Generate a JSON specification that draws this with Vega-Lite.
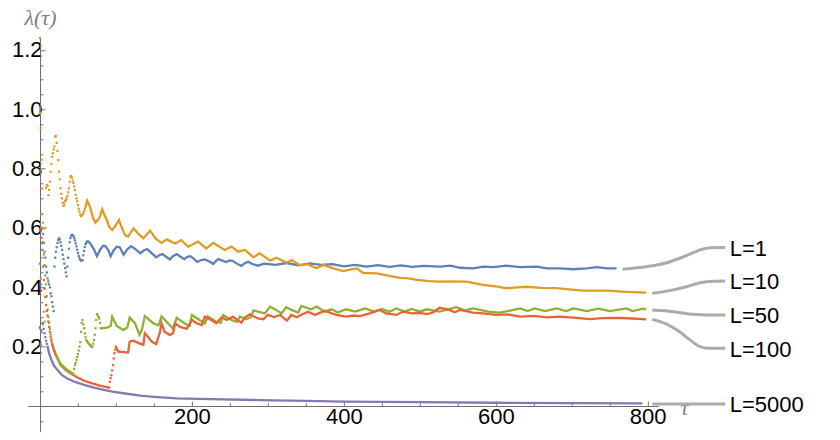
{
"$schema": "https://vega.github.io/schema/vega-lite/v6.json",
"width": 630.5, "height": 393.4,
"autosize": {"type": "none"},
"padding": {"left": 27.85, "top": 38.3, "right": 181.65, "bottom": 8.3},
"background": "white",
"config": {"view": {"stroke": null}, "font": "Liberation Sans"},
"datasets": {
"pts": [
{"s":1,"t":0,"v":0.48},{"s":1,"t":1,"v":0.41},{"s":1,"t":2,"v":0.55},{"s":1,"t":3,"v":0.6},{"s":1,"t":4,"v":0.58},{"s":1,"t":5,"v":0.55},{"s":1,"t":6,"v":0.52},{"s":1,"t":7,"v":0.5},{"s":1,"t":8,"v":0.47},{"s":1,"t":9,"v":0.45},{"s":1,"t":10,"v":0.43},{"s":1,"t":11,"v":0.42},{"s":1,"t":12,"v":0.41},{"s":1,"t":13,"v":0.4},{"s":1,"t":14,"v":0.38},{"s":1,"t":15,"v":0.37},{"s":1,"t":16,"v":0.35},{"s":1,"t":17,"v":0.335},{"s":1,"t":18,"v":0.32},{"s":1,"t":19,"v":0.47},{"s":1,"t":20,"v":0.5},{"s":1,"t":21,"v":0.52},{"s":1,"t":22,"v":0.535},{"s":1,"t":23,"v":0.55},{"s":1,"t":24,"v":0.56},{"s":1,"t":25,"v":0.565},{"s":1,"t":26,"v":0.562},{"s":1,"t":27,"v":0.552},{"s":1,"t":28,"v":0.54},{"s":1,"t":29,"v":0.526},{"s":1,"t":30,"v":0.51},{"s":1,"t":31,"v":0.495},{"s":1,"t":32,"v":0.48},{"s":1,"t":33,"v":0.465},{"s":1,"t":34,"v":0.45},{"s":1,"t":35,"v":0.437},{"s":1,"t":36,"v":0.47},{"s":1,"t":37,"v":0.5},{"s":1,"t":38,"v":0.53},{"s":1,"t":39,"v":0.552},{"s":1,"t":40,"v":0.566},{"s":1,"t":41,"v":0.574},{"s":1,"t":42,"v":0.577},{"s":1,"t":43,"v":0.576},{"s":1,"t":44,"v":0.572},{"s":1,"t":45,"v":0.566},{"s":1,"t":46,"v":0.558},{"s":1,"t":47,"v":0.548},{"s":1,"t":48,"v":0.538},{"s":1,"t":49,"v":0.527},{"s":1,"t":50,"v":0.516},{"s":1,"t":51,"v":0.506},{"s":1,"t":52,"v":0.498},{"s":1,"t":53,"v":0.493},{"s":1,"t":54,"v":0.49},{"s":1,"t":55,"v":0.49},{"s":1,"t":56,"v":0.492},{"s":1,"t":57,"v":0.508},{"s":1,"t":58,"v":0.523},{"s":1,"t":59,"v":0.536},{"s":1,"t":60,"v":0.546},
{"s":10,"t":0,"v":0.987},{"s":10,"t":1,"v":0.936},{"s":10,"t":2,"v":0.83},{"s":10,"t":3,"v":0.733},{"s":10,"t":4,"v":0.618},{"s":10,"t":5,"v":0.318},{"s":10,"t":6,"v":0.284},{"s":10,"t":7,"v":0.6},{"s":10,"t":8,"v":0.735},{"s":10,"t":9,"v":0.745},{"s":10,"t":10,"v":0.742},{"s":10,"t":11,"v":0.711},{"s":10,"t":12,"v":0.728},{"s":10,"t":13,"v":0.756},{"s":10,"t":14,"v":0.79},{"s":10,"t":15,"v":0.815},{"s":10,"t":16,"v":0.84},{"s":10,"t":17,"v":0.852},{"s":10,"t":18,"v":0.865},{"s":10,"t":19,"v":0.875},{"s":10,"t":20,"v":0.908},{"s":10,"t":21,"v":0.91},{"s":10,"t":22,"v":0.887},{"s":10,"t":23,"v":0.86},{"s":10,"t":24,"v":0.829},{"s":10,"t":25,"v":0.79},{"s":10,"t":26,"v":0.764},{"s":10,"t":27,"v":0.734},{"s":10,"t":28,"v":0.715},{"s":10,"t":29,"v":0.7},{"s":10,"t":30,"v":0.685},{"s":10,"t":31,"v":0.674},{"s":10,"t":32,"v":0.68},{"s":10,"t":33,"v":0.69},{"s":10,"t":34,"v":0.694},{"s":10,"t":35,"v":0.7},{"s":10,"t":36,"v":0.708},{"s":10,"t":37,"v":0.72},{"s":10,"t":38,"v":0.734},{"s":10,"t":39,"v":0.755},{"s":10,"t":40,"v":0.773},{"s":10,"t":41,"v":0.775},{"s":10,"t":42,"v":0.77},{"s":10,"t":43,"v":0.76},{"s":10,"t":44,"v":0.752},{"s":10,"t":45,"v":0.74},{"s":10,"t":46,"v":0.728},{"s":10,"t":47,"v":0.712},{"s":10,"t":48,"v":0.7},{"s":10,"t":49,"v":0.69},{"s":10,"t":50,"v":0.677},{"s":10,"t":51,"v":0.665},{"s":10,"t":52,"v":0.655},{"s":10,"t":53,"v":0.645},{"s":10,"t":54,"v":0.64},{"s":10,"t":55,"v":0.642},{"s":10,"t":56,"v":0.646},{"s":10,"t":57,"v":0.649},{"s":10,"t":58,"v":0.656},{"s":10,"t":59,"v":0.664},{"s":10,"t":60,"v":0.672},
{"s":50,"t":0,"v":1.24},{"s":50,"t":1,"v":0.43},{"s":50,"t":2,"v":0.646},{"s":50,"t":3,"v":0.6},{"s":50,"t":4,"v":0.552},{"s":50,"t":5,"v":0.511},{"s":50,"t":6,"v":0.475},{"s":50,"t":7,"v":0.44},{"s":50,"t":8,"v":0.41},{"s":50,"t":9,"v":0.37},{"s":50,"t":10,"v":0.325},{"s":50,"t":11,"v":0.3},{"s":50,"t":12,"v":0.28},{"s":50,"t":13,"v":0.26},{"s":50,"t":14,"v":0.242},{"s":50,"t":15,"v":0.226},{"s":50,"t":16,"v":0.212},{"s":50,"t":17,"v":0.202},{"s":50,"t":18,"v":0.194},{"s":50,"t":19,"v":0.187},{"s":50,"t":20,"v":0.18},{"s":50,"t":21,"v":0.173},{"s":50,"t":22,"v":0.167},{"s":50,"t":23,"v":0.162},{"s":50,"t":24,"v":0.157},{"s":50,"t":25,"v":0.152},{"s":50,"t":26,"v":0.147},{"s":50,"t":27,"v":0.142},{"s":50,"t":28,"v":0.139},{"s":50,"t":29,"v":0.137},{"s":50,"t":30,"v":0.135},{"s":50,"t":31,"v":0.132},{"s":50,"t":32,"v":0.13},{"s":50,"t":33,"v":0.127},{"s":50,"t":34,"v":0.125},{"s":50,"t":35,"v":0.123},{"s":50,"t":36,"v":0.121},{"s":50,"t":37,"v":0.119},{"s":50,"t":38,"v":0.117},{"s":50,"t":39,"v":0.116},{"s":50,"t":40,"v":0.114},{"s":50,"t":41,"v":0.112},{"s":50,"t":42,"v":0.111},{"s":50,"t":43,"v":0.109},{"s":50,"t":44,"v":0.108},{"s":50,"t":45,"v":0.125},{"s":50,"t":46,"v":0.138},{"s":50,"t":47,"v":0.145},{"s":50,"t":48,"v":0.155},{"s":50,"t":49,"v":0.165},{"s":50,"t":50,"v":0.175},{"s":50,"t":51,"v":0.187},{"s":50,"t":52,"v":0.2},{"s":50,"t":53,"v":0.215},{"s":50,"t":54,"v":0.25},{"s":50,"t":55,"v":0.28},{"s":50,"t":56,"v":0.29},{"s":50,"t":57,"v":0.275},{"s":50,"t":58,"v":0.262},{"s":50,"t":59,"v":0.245},{"s":50,"t":60,"v":0.232},{"s":50,"t":61,"v":0.222},{"s":50,"t":62,"v":0.218},{"s":50,"t":63,"v":0.214},{"s":50,"t":64,"v":0.211},{"s":50,"t":65,"v":0.208},{"s":50,"t":66,"v":0.205},{"s":50,"t":67,"v":0.202},{"s":50,"t":68,"v":0.2},{"s":50,"t":69,"v":0.2},{"s":50,"t":70,"v":0.21},{"s":50,"t":71,"v":0.222},{"s":50,"t":72,"v":0.24},{"s":50,"t":73,"v":0.262},{"s":50,"t":74,"v":0.29},{"s":50,"t":75,"v":0.31},{"s":50,"t":76,"v":0.305},{"s":50,"t":77,"v":0.3},{"s":50,"t":78,"v":0.295},{"s":50,"t":79,"v":0.28},{"s":50,"t":80,"v":0.262},
{"s":100,"t":0,"v":0.266},{"s":100,"t":1,"v":0.6},{"s":100,"t":2,"v":0.567},{"s":100,"t":3,"v":0.526},{"s":100,"t":4,"v":0.47},{"s":100,"t":5,"v":0.425},{"s":100,"t":6,"v":0.395},{"s":100,"t":7,"v":0.368},{"s":100,"t":8,"v":0.34},{"s":100,"t":9,"v":0.32},{"s":100,"t":10,"v":0.305},{"s":100,"t":11,"v":0.285},{"s":100,"t":12,"v":0.267},{"s":100,"t":13,"v":0.25},{"s":100,"t":14,"v":0.234},{"s":100,"t":15,"v":0.22},{"s":100,"t":16,"v":0.206},{"s":100,"t":17,"v":0.198},{"s":100,"t":18,"v":0.19},{"s":100,"t":19,"v":0.183},{"s":100,"t":20,"v":0.176},
{"s":100,"t":91,"v":0.062},{"s":100,"t":92,"v":0.082},{"s":100,"t":93,"v":0.094},{"s":100,"t":94,"v":0.104},{"s":100,"t":95,"v":0.12},{"s":100,"t":96,"v":0.138},{"s":100,"t":97,"v":0.16},{"s":100,"t":98,"v":0.178},{"s":100,"t":99,"v":0.19},{"s":100,"t":100,"v":0.2},{"s":100,"t":101,"v":0.194},{"s":100,"t":102,"v":0.188},{"s":100,"t":103,"v":0.184},{"s":100,"t":104,"v":0.183},
{"s":5000,"t":0,"v":0.262},{"s":5000,"t":1,"v":0.205},{"s":5000,"t":2,"v":0.255},{"s":5000,"t":3,"v":0.28},{"s":5000,"t":4,"v":0.276},{"s":5000,"t":5,"v":0.26},{"s":5000,"t":6,"v":0.245},{"s":5000,"t":7,"v":0.232},{"s":5000,"t":8,"v":0.22},{"s":5000,"t":9,"v":0.21},{"s":5000,"t":10,"v":0.2}
],
"lns": [
{"s":1,"t":60,"v":0.546},{"s":1,"t":62,"v":0.555},{"s":1,"t":64,"v":0.554},{"s":1,"t":67,"v":0.545},{"s":1,"t":71,"v":0.528},{"s":1,"t":75,"v":0.505},{"s":1,"t":79,"v":0.526},{"s":1,"t":83,"v":0.54},{"s":1,"t":86,"v":0.539},{"s":1,"t":90,"v":0.525},{"s":1,"t":93,"v":0.505},{"s":1,"t":97,"v":0.525},{"s":1,"t":101,"v":0.537},{"s":1,"t":105,"v":0.535},{"s":1,"t":110,"v":0.51},{"s":1,"t":115,"v":0.528},{"s":1,"t":120,"v":0.539},{"s":1,"t":126,"v":0.528},{"s":1,"t":132,"v":0.515},{"s":1,"t":137,"v":0.525},{"s":1,"t":141,"v":0.529},{"s":1,"t":147,"v":0.515},{"s":1,"t":153,"v":0.501},{"s":1,"t":157,"v":0.508},{"s":1,"t":161,"v":0.512},{"s":1,"t":166,"v":0.503},{"s":1,"t":171,"v":0.494},{"s":1,"t":175,"v":0.505},{"s":1,"t":180,"v":0.512},{"s":1,"t":185,"v":0.503},{"s":1,"t":190,"v":0.495},{"s":1,"t":194,"v":0.503},{"s":1,"t":198,"v":0.505},{"s":1,"t":203,"v":0.495},{"s":1,"t":207,"v":0.486},{"s":1,"t":212,"v":0.492},{"s":1,"t":217,"v":0.494},{"s":1,"t":223,"v":0.487},{"s":1,"t":228,"v":0.479},{"s":1,"t":232,"v":0.49},{"s":1,"t":235,"v":0.495},{"s":1,"t":240,"v":0.49},{"s":1,"t":245,"v":0.485},{"s":1,"t":249,"v":0.49},{"s":1,"t":253,"v":0.49},{"s":1,"t":259,"v":0.48},{"s":1,"t":265,"v":0.472},{"s":1,"t":270,"v":0.482},{"s":1,"t":274,"v":0.486},{"s":1,"t":280,"v":0.478},{"s":1,"t":287,"v":0.473},{"s":1,"t":295,"v":0.48},{"s":1,"t":310,"v":0.476},{"s":1,"t":325,"v":0.482},{"s":1,"t":340,"v":0.474},{"s":1,"t":355,"v":0.481},{"s":1,"t":370,"v":0.476},{"s":1,"t":385,"v":0.478},{"s":1,"t":400,"v":0.471},{"s":1,"t":415,"v":0.476},{"s":1,"t":430,"v":0.47},{"s":1,"t":445,"v":0.475},{"s":1,"t":460,"v":0.469},{"s":1,"t":475,"v":0.474},{"s":1,"t":490,"v":0.469},{"s":1,"t":505,"v":0.472},{"s":1,"t":527,"v":0.47},{"s":1,"t":540,"v":0.473},{"s":1,"t":553,"v":0.466},{"s":1,"t":570,"v":0.464},{"s":1,"t":584,"v":0.47},{"s":1,"t":597,"v":0.468},{"s":1,"t":614,"v":0.473},{"s":1,"t":632,"v":0.468},{"s":1,"t":654,"v":0.47},{"s":1,"t":667,"v":0.464},{"s":1,"t":684,"v":0.464},{"s":1,"t":702,"v":0.461},{"s":1,"t":720,"v":0.464},{"s":1,"t":733,"v":0.468},{"s":1,"t":746,"v":0.464},{"s":1,"t":759,"v":0.464},
{"s":10,"t":60,"v":0.672},{"s":10,"t":62,"v":0.692},{"s":10,"t":65,"v":0.677},{"s":10,"t":67,"v":0.66},{"s":10,"t":70,"v":0.633},{"s":10,"t":73,"v":0.618},{"s":10,"t":78,"v":0.633},{"s":10,"t":82,"v":0.663},{"s":10,"t":84,"v":0.649},{"s":10,"t":88,"v":0.627},{"s":10,"t":91,"v":0.604},{"s":10,"t":95,"v":0.593},{"s":10,"t":100,"v":0.61},{"s":10,"t":104,"v":0.627},{"s":10,"t":108,"v":0.599},{"s":10,"t":112,"v":0.576},{"s":10,"t":116,"v":0.571},{"s":10,"t":123,"v":0.599},{"s":10,"t":129,"v":0.582},{"s":10,"t":136,"v":0.565},{"s":10,"t":145,"v":0.591},{"s":10,"t":152,"v":0.565},{"s":10,"t":160,"v":0.55},{"s":10,"t":167,"v":0.562},{"s":10,"t":172,"v":0.555},{"s":10,"t":178,"v":0.548},{"s":10,"t":186,"v":0.559},{"s":10,"t":195,"v":0.537},{"s":10,"t":208,"v":0.554},{"s":10,"t":219,"v":0.531},{"s":10,"t":228,"v":0.55},{"s":10,"t":243,"v":0.526},{"s":10,"t":252,"v":0.537},{"s":10,"t":261,"v":0.52},{"s":10,"t":270,"v":0.526},{"s":10,"t":281,"v":0.501},{"s":10,"t":289,"v":0.515},{"s":10,"t":303,"v":0.49},{"s":10,"t":311,"v":0.5},{"s":10,"t":325,"v":0.483},{"s":10,"t":331,"v":0.492},{"s":10,"t":342,"v":0.475},{"s":10,"t":352,"v":0.478},{"s":10,"t":364,"v":0.464},{"s":10,"t":373,"v":0.475},{"s":10,"t":385,"v":0.465},{"s":10,"t":399,"v":0.455},{"s":10,"t":408,"v":0.46},{"s":10,"t":417,"v":0.464},{"s":10,"t":425,"v":0.449},{"s":10,"t":443,"v":0.447},{"s":10,"t":460,"v":0.439},{"s":10,"t":474,"v":0.432},{"s":10,"t":485,"v":0.43},{"s":10,"t":496,"v":0.425},{"s":10,"t":513,"v":0.421},{"s":10,"t":526,"v":0.419},{"s":10,"t":540,"v":0.42},{"s":10,"t":561,"v":0.419},{"s":10,"t":583,"v":0.408},{"s":10,"t":600,"v":0.403},{"s":10,"t":614,"v":0.397},{"s":10,"t":640,"v":0.402},{"s":10,"t":660,"v":0.398},{"s":10,"t":680,"v":0.397},{"s":10,"t":700,"v":0.392},{"s":10,"t":715,"v":0.389},{"s":10,"t":746,"v":0.389},{"s":10,"t":772,"v":0.385},{"s":10,"t":798,"v":0.382},
{"s":50,"t":80,"v":0.262},{"s":50,"t":88,"v":0.264},{"s":50,"t":93,"v":0.27},{"s":50,"t":95,"v":0.301},{"s":50,"t":101,"v":0.27},{"s":50,"t":110,"v":0.256},{"s":50,"t":115,"v":0.265},{"s":50,"t":118,"v":0.298},{"s":50,"t":125,"v":0.279},{"s":50,"t":131,"v":0.24},{"s":50,"t":134,"v":0.255},{"s":50,"t":138,"v":0.303},{"s":50,"t":149,"v":0.279},{"s":50,"t":156,"v":0.272},{"s":50,"t":160,"v":0.302},{"s":50,"t":170,"v":0.275},{"s":50,"t":175,"v":0.262},{"s":50,"t":180,"v":0.297},{"s":50,"t":190,"v":0.279},{"s":50,"t":197,"v":0.27},{"s":50,"t":200,"v":0.307},{"s":50,"t":210,"v":0.29},{"s":50,"t":217,"v":0.279},{"s":50,"t":221,"v":0.302},{"s":50,"t":232,"v":0.284},{"s":50,"t":238,"v":0.28},{"s":50,"t":241,"v":0.307},{"s":50,"t":252,"v":0.29},{"s":50,"t":259,"v":0.284},{"s":50,"t":263,"v":0.301},{"s":50,"t":272,"v":0.293},{"s":50,"t":278,"v":0.3},{"s":50,"t":281,"v":0.322},{"s":50,"t":296,"v":0.312},{"s":50,"t":303,"v":0.335},{"s":50,"t":311,"v":0.324},{"s":50,"t":318,"v":0.312},{"s":50,"t":324,"v":0.333},{"s":50,"t":331,"v":0.324},{"s":50,"t":340,"v":0.315},{"s":50,"t":344,"v":0.337},{"s":50,"t":357,"v":0.326},{"s":50,"t":364,"v":0.335},{"s":50,"t":375,"v":0.318},{"s":50,"t":384,"v":0.326},{"s":50,"t":392,"v":0.315},{"s":50,"t":403,"v":0.326},{"s":50,"t":415,"v":0.318},{"s":50,"t":428,"v":0.329},{"s":50,"t":440,"v":0.318},{"s":50,"t":450,"v":0.327},{"s":50,"t":460,"v":0.318},{"s":50,"t":469,"v":0.329},{"s":50,"t":480,"v":0.318},{"s":50,"t":489,"v":0.327},{"s":50,"t":500,"v":0.318},{"s":50,"t":509,"v":0.326},{"s":50,"t":526,"v":0.318},{"s":50,"t":548,"v":0.333},{"s":50,"t":560,"v":0.322},{"s":50,"t":570,"v":0.329},{"s":50,"t":590,"v":0.318},{"s":50,"t":605,"v":0.315},{"s":50,"t":620,"v":0.322},{"s":50,"t":632,"v":0.329},{"s":50,"t":642,"v":0.32},{"s":50,"t":651,"v":0.329},{"s":50,"t":665,"v":0.32},{"s":50,"t":680,"v":0.329},{"s":50,"t":693,"v":0.32},{"s":50,"t":702,"v":0.329},{"s":50,"t":720,"v":0.32},{"s":50,"t":735,"v":0.328},{"s":50,"t":750,"v":0.32},{"s":50,"t":772,"v":0.329},{"s":50,"t":780,"v":0.32},{"s":50,"t":794,"v":0.328},{"s":50,"t":798,"v":0.326},
{"s":100,"g":"a","t":20,"v":0.176},{"s":100,"g":"a","t":23,"v":0.161},{"s":100,"g":"a","t":27,"v":0.138},{"s":100,"g":"a","t":30,"v":0.131},{"s":100,"g":"a","t":34,"v":0.121},{"s":100,"g":"a","t":40,"v":0.11},{"s":100,"g":"a","t":49,"v":0.097},{"s":100,"g":"a","t":58,"v":0.085},{"s":100,"g":"a","t":69,"v":0.076},{"s":100,"g":"a","t":80,"v":0.068},{"s":100,"g":"a","t":91,"v":0.062},
{"s":100,"t":104,"v":0.183},{"s":100,"t":116,"v":0.18},{"s":100,"t":118,"v":0.217},{"s":100,"t":123,"v":0.22},{"s":100,"t":130,"v":0.212},{"s":100,"t":136,"v":0.206},{"s":100,"t":138,"v":0.245},{"s":100,"t":142,"v":0.234},{"s":100,"t":147,"v":0.217},{"s":100,"t":153,"v":0.209},{"s":100,"t":158,"v":0.25},{"s":100,"t":160,"v":0.279},{"s":100,"t":164,"v":0.25},{"s":100,"t":171,"v":0.239},{"s":100,"t":175,"v":0.245},{"s":100,"t":178,"v":0.279},{"s":100,"t":184,"v":0.267},{"s":100,"t":193,"v":0.26},{"s":100,"t":200,"v":0.29},{"s":100,"t":206,"v":0.279},{"s":100,"t":213,"v":0.273},{"s":100,"t":217,"v":0.301},{"s":100,"t":224,"v":0.292},{"s":100,"t":232,"v":0.279},{"s":100,"t":239,"v":0.299},{"s":100,"t":246,"v":0.29},{"s":100,"t":254,"v":0.301},{"s":100,"t":261,"v":0.288},{"s":100,"t":265,"v":0.281},{"s":100,"t":270,"v":0.299},{"s":100,"t":276,"v":0.309},{"s":100,"t":287,"v":0.295},{"s":100,"t":294,"v":0.292},{"s":100,"t":300,"v":0.307},{"s":100,"t":308,"v":0.3},{"s":100,"t":316,"v":0.307},{"s":100,"t":325,"v":0.288},{"s":100,"t":331,"v":0.307},{"s":100,"t":338,"v":0.299},{"s":100,"t":346,"v":0.31},{"s":100,"t":353,"v":0.318},{"s":100,"t":362,"v":0.307},{"s":100,"t":375,"v":0.321},{"s":100,"t":384,"v":0.312},{"s":100,"t":390,"v":0.307},{"s":100,"t":403,"v":0.301},{"s":100,"t":412,"v":0.305},{"s":100,"t":421,"v":0.303},{"s":100,"t":434,"v":0.312},{"s":100,"t":447,"v":0.324},{"s":100,"t":456,"v":0.312},{"s":100,"t":469,"v":0.307},{"s":100,"t":478,"v":0.318},{"s":100,"t":490,"v":0.312},{"s":100,"t":500,"v":0.314},{"s":100,"t":510,"v":0.31},{"s":100,"t":518,"v":0.316},{"s":100,"t":526,"v":0.331},{"s":100,"t":539,"v":0.324},{"s":100,"t":546,"v":0.316},{"s":100,"t":553,"v":0.324},{"s":100,"t":570,"v":0.315},{"s":100,"t":583,"v":0.312},{"s":100,"t":601,"v":0.307},{"s":100,"t":615,"v":0.309},{"s":100,"t":632,"v":0.301},{"s":100,"t":650,"v":0.304},{"s":100,"t":667,"v":0.299},{"s":100,"t":685,"v":0.301},{"s":100,"t":702,"v":0.298},{"s":100,"t":724,"v":0.293},{"s":100,"t":740,"v":0.296},{"s":100,"t":760,"v":0.297},{"s":100,"t":780,"v":0.295},{"s":100,"t":798,"v":0.292},
{"s":5000,"t":10,"v":0.2},{"s":5000,"t":12,"v":0.178},{"s":5000,"t":15,"v":0.155},{"s":5000,"t":18,"v":0.138},{"s":5000,"t":23,"v":0.121},{"s":5000,"t":29,"v":0.104},{"s":5000,"t":36,"v":0.093},{"s":5000,"t":45,"v":0.082},{"s":5000,"t":58,"v":0.071},{"s":5000,"t":71,"v":0.062},{"s":5000,"t":84,"v":0.054},{"s":5000,"t":97,"v":0.048},{"s":5000,"t":110,"v":0.043},{"s":5000,"t":132,"v":0.035},{"s":5000,"t":150,"v":0.031},{"s":5000,"t":180,"v":0.026},{"s":5000,"t":224,"v":0.023},{"s":5000,"t":289,"v":0.02},{"s":5000,"t":350,"v":0.017},{"s":5000,"t":400,"v":0.015},{"s":5000,"t":500,"v":0.013},{"s":5000,"t":600,"v":0.011},{"s":5000,"t":700,"v":0.0095},{"s":5000,"t":793,"v":0.009}
],
"callouts": [
{"s":1,"t":767,"v":0.461},{"s":1,"t":799,"v":0.47},{"s":1,"t":825,"v":0.483},{"s":1,"t":842,"v":0.498},{"s":1,"t":860,"v":0.517},{"s":1,"t":871,"v":0.528},{"s":1,"t":880,"v":0.533},{"s":1,"t":902,"v":0.534},
{"s":10,"t":806,"v":0.38},{"s":10,"t":829,"v":0.389},{"s":10,"t":851,"v":0.402},{"s":10,"t":867,"v":0.414},{"s":10,"t":880,"v":0.42},{"s":10,"t":902,"v":0.421},
{"s":50,"t":806,"v":0.3236},{"s":50,"t":834,"v":0.318},{"s":50,"t":860,"v":0.309},{"s":50,"t":878,"v":0.3067},{"s":50,"t":902,"v":0.3067},
{"s":100,"t":806,"v":0.292},{"s":100,"t":825,"v":0.276},{"s":100,"t":842,"v":0.25},{"s":100,"t":856,"v":0.222},{"s":100,"t":869,"v":0.2},{"s":100,"t":880,"v":0.1945},{"s":100,"t":902,"v":0.1945},
{"s":5000,"t":806,"v":0.0067},{"s":5000,"t":902,"v":0.0067}
],
"labels": [
{"lab":"L=1","t":908,"v":0.534},{"lab":"L=10","t":908,"v":0.421},{"lab":"L=50","t":908,"v":0.3067},{"lab":"L=100","t":908,"v":0.1945},{"lab":"L=5000","t":908,"v":0.0067}
]
},
"encoding": {
"x": {"field": "t", "type": "quantitative",
 "scale": {"domain": [-16, 814], "nice": false, "zero": false},
 "axis": {"title": "τ", "values": [50,100,150,200,250,300,350,400,450,500,550,600,650,700,750,800],
  "labelExpr": "datum.value % 200 === 0 ? datum.label : ''",
  "tickSize": {"condition": {"test": "datum.value % 200 === 0", "value": -5}, "value": -3},
  "offset": -25.69, "grid": false, "domainColor": "#6e6e6e", "tickColor": "#6e6e6e", "domainWidth": 1, "tickWidth": 1,
  "labelColor": "black", "labelFont": "Liberation Sans", "labelFontSize": 22, "labelPadding": 5.4,
  "labelFlush": false, "labelOverlap": false,
  "titleX": 656, "titleY": 1, "titleAlign": "center", "titleBaseline": "middle", "titleAngle": 0,
  "titleFont": "Liberation Serif", "titleFontStyle": "italic", "titleFontWeight": "normal", "titleFontSize": 22, "titleColor": "#808080"}},
"y": {"field": "v", "type": "quantitative",
 "scale": {"domain": [-0.0866, 1.2394], "nice": false, "zero": false},
 "axis": {"title": "λ(τ)", "values": [-0.05,0.05,0.1,0.15,0.2,0.25,0.3,0.35,0.4,0.45,0.5,0.55,0.6,0.65,0.7,0.75,0.8,0.85,0.9,0.95,1.0,1.05,1.1,1.15,1.2],
  "labelExpr": "(abs(datum.value*5 - round(datum.value*5)) < 0.001 && datum.value > 0.01) ? format(datum.value, '.1f') : ''",
  "tickSize": {"condition": {"test": "abs(datum.value*5 - round(datum.value*5)) < 0.001", "value": -5}, "value": -3},
  "offset": -12.15, "grid": false, "domainColor": "#6e6e6e", "tickColor": "#6e6e6e", "domainWidth": 1, "tickWidth": 1,
  "labelColor": "black", "labelFont": "Liberation Sans", "labelFontSize": 22, "labelPadding": 3,
  "labelFlush": false, "labelOverlap": false, "labelBaseline": "middle",
  "titleX": 0, "titleY": -21.3, "titleAlign": "center", "titleBaseline": "middle", "titleAngle": 0,
  "titleFont": "Liberation Serif", "titleFontStyle": "italic", "titleFontWeight": "normal", "titleFontSize": 22, "titleColor": "#808080"}}
},
"layer": [
{"data": {"name": "callouts"}, "mark": {"type": "line", "interpolate": "monotone", "color": "#ababab", "strokeWidth": 3, "clip": false},
 "encoding": {"detail": {"field": "s", "type": "nominal"}}},
{"data": {"name": "labels"}, "mark": {"type": "text", "align": "left", "baseline": "middle", "dy": 1.3, "fontSize": 22, "font": "Liberation Sans", "color": "black", "clip": false},
 "encoding": {"text": {"field": "lab", "type": "nominal"}}},
{"data": {"name": "lns"}, "mark": {"type": "line", "strokeWidth": 2.3, "clip": false},
 "encoding": {"color": {"field": "s", "type": "nominal", "scale": {"domain": [1,10,50,100,5000], "range": ["#5E81B5","#E19C24","#8FB032","#EB6235","#8778B3"]}, "legend": null},
  "detail": {"field": "g", "type": "nominal"}}},
{"data": {"name": "pts"}, "mark": {"type": "square", "size": 5, "opacity": 1, "clip": false},
 "encoding": {"color": {"field": "s", "type": "nominal", "scale": {"domain": [1,10,50,100,5000], "range": ["#5E81B5","#E19C24","#8FB032","#EB6235","#8778B3"]}, "legend": null}}}
]
}
